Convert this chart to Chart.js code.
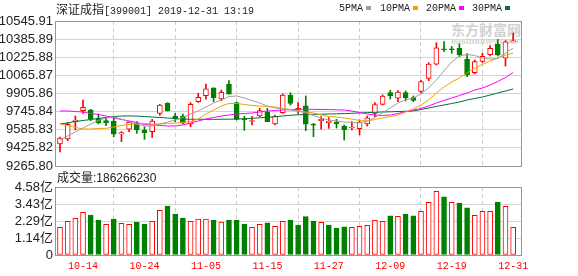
<!DOCTYPE html>
<html>
<head>
<meta charset="utf-8">
<script src="https://cdn.jsdelivr.net/npm/chart.js@4.4.1/dist/chart.umd.min.js"></script>
<style>
  html, body { margin: 0; padding: 0; background: #fff; }
  #wrap { position: relative; width: 578px; height: 276px; overflow: hidden;
          font-family: "Liberation Sans", "Noto Sans CJK SC", sans-serif; color: #222; }
  .abs { position: absolute; white-space: nowrap; }
  .mono { font-family: "Liberation Mono", monospace; font-size: 10px; }
  .cjk { font-family: "Noto Sans CJK SC", sans-serif; font-size: 12px; }
  canvas { position: absolute; left: 0; }
  .sq { display: inline-block; width: 5px; height: 4px; margin-left: 3px; vertical-align: 1px; }
  .wm { color: #d2d2d2; font-weight: bold; }
</style>
</head>
<body>
<div id="wrap">
  <div class="abs wm cjk" style="left:451px;top:21px;font-size:14px;line-height:16px;letter-spacing:0px">东方财富网</div>
  <div class="abs wm" style="left:451px;top:36px;font-size:9px;line-height:10px">eastmoney.com</div>

  <canvas id="kline" width="578" height="180" style="top:0"></canvas>
  <canvas id="volume" width="578" height="106" style="top:170px"></canvas>

  <div class="abs" style="left:56px;top:2px;line-height:14px"><span class="cjk">深证成指</span><span class="mono">[399001] 2019-12-31 13:19</span></div>
  <div class="abs mono" style="left:339px;top:3px;line-height:12px">5PMA<span class="sq" style="background:#a0a0a0"></span></div>
  <div class="abs mono" style="left:380px;top:3px;line-height:12px">10PMA<span class="sq" style="background:#f5a000"></span></div>
  <div class="abs mono" style="left:426px;top:3px;line-height:12px">20PMA<span class="sq" style="background:#ff00ff"></span></div>
  <div class="abs mono" style="left:472px;top:3px;line-height:12px">30PMA<span class="sq" style="background:#00703a"></span></div>
  <div class="abs" style="left:57px;top:171px;font-size:12px;line-height:14px">成交量:186266230</div>
</div>

<script>
// === data ===
const dates = [
  '10-09','10-10','10-11','10-14','10-15','10-16','10-17','10-18','10-21','10-22',
  '10-23','10-24','10-25','10-28','10-29','10-30','10-31','11-01','11-04','11-05',
  '11-06','11-07','11-08','11-11','11-12','11-13','11-14','11-15','11-18','11-19',
  '11-20','11-21','11-22','11-25','11-26','11-27','11-28','11-29','12-02','12-03',
  '12-04','12-05','12-06','12-09','12-10','12-11','12-12','12-13','12-16','12-17',
  '12-18','12-19','12-20','12-23','12-24','12-25','12-26','12-27','12-30','12-31'
];
const dateTicks = ['10-14','10-24','11-05','11-15','11-27','12-09','12-19','12-31'];

const openP  = [9460,9504,9657,9754,9760,9687,9666,9663,9548,9590,9643,9584,9569,9731,9819,9707,9707,9634,9833,9886,
                9955,9857,9990,9825,9680,9659,9707,9742,9637,9737,9893,9760,9796,9630,9666,9648,9654,9619,9601,9595,
                9637,9731,9810,9913,9864,9915,9869,9925,10040,10164,10299,10296,10305,10208,10090,10190,10248,10339,10217,10362];
const highP  = [9521,9648,9707,9848,9766,9725,9692,9701,9569,9657,9657,9613,9678,9810,9825,9731,9725,9825,9908,9990,
                9955,9937,10019,9830,9705,9701,9775,9775,9716,9902,9913,9825,9884,9643,9701,9692,9678,9628,9657,9672,
                9707,9825,9893,9934,9932,9929,9884,10022,10178,10354,10365,10321,10343,10259,10202,10261,10330,10383,10372,10440];
const lowP   = [9389,9489,9584,9731,9666,9637,9622,9524,9480,9569,9554,9501,9519,9713,9751,9657,9637,9613,9828,9855,
                9834,9842,9899,9672,9580,9628,9701,9657,9628,9731,9804,9731,9578,9525,9590,9598,9601,9495,9584,9540,
                9619,9701,9804,9857,9834,9840,9834,9910,10019,10158,10275,10261,10231,10054,10078,10178,10237,10237,10149,10362];
const closeP = [9513,9634,9672,9784,9681,9648,9648,9546,9560,9652,9584,9560,9663,9804,9754,9684,9643,9810,9872,9946,
                9870,9916,9901,9678,9674,9666,9754,9657,9707,9893,9819,9774,9634,9626,9678,9663,9637,9584,9608,9654,
                9690,9807,9884,9886,9919,9866,9844,10010,10166,10310,10292,10292,10246,10069,10187,10234,10305,10246,10363,10367];

const ma5  = [9495.4,9530.7,9566.0,9601.3,9636.6,9667.5,9689.6,9698.4,9680.8,9654.3,9636.6,9619.0,9619.0,9636.6,9654.3,
              9671.9,9694.0,9724.9,9751.4,9786.7,9822.0,9848.5,9879.4,9883.8,9866.2,9844.1,9822.0,9795.5,9777.9,9769.0,
              9760.2,9751.4,9733.7,9711.7,9689.6,9671.9,9663.1,9654.3,9649.9,9645.5,9663.1,9694.0,9733.7,9777.9,9822.0,
              9848.5,9866.2,9901.5,9954.6,10025.1,10104.8,10183.9,10236.9,10250.2,10241.3,10219.3,10210.4,10214.9,10262.7,10307.6];
const ma10 = [9636.6,9623.4,9605.7,9592.5,9592.5,9596.9,9598.7,9610.1,9623.4,9632.2,9636.6,9641.0,9636.6,9636.6,9641.0,
              9645.5,9649.9,9658.7,9680.8,9724.9,9760.2,9795.5,9817.6,9817.6,9808.8,9799.9,9795.5,9791.1,9786.7,9773.5,
              9764.6,9751.4,9742.6,9733.7,9716.1,9702.8,9698.4,9689.6,9680.8,9667.5,9663.1,9676.3,9689.6,9702.8,9716.1,
              9742.6,9769.0,9804.4,9848.5,9910.3,9963.3,10007.4,10042.7,10086.9,10131.0,10161.9,10192.8,10219.3,10245.8,10263.4];
const ma20 = [9751.4,9751.4,9747.0,9742.6,9729.3,9720.5,9707.2,9689.6,9676.3,9663.1,9649.9,9632.2,9627.8,9623.4,9619.0,
              9619.0,9627.8,9645.5,9663.1,9680.8,9694.0,9707.2,9716.1,9724.9,9729.3,9733.7,9742.6,9751.4,9755.8,9760.2,
              9764.6,9766.0,9767.0,9766.0,9765.0,9764.0,9762.0,9760.2,9751.4,9738.2,9724.9,9716.1,9711.7,9716.1,9729.3,
              9747.0,9760.2,9773.5,9795.5,9822.0,9844.1,9866.2,9888.2,9910.3,9936.8,9954.4,9980.9,10011.8,10047.2,10091.2];
const ma30 = [9636.6,9645.5,9658.7,9667.5,9676.3,9685.2,9694.0,9702.8,9707.2,9708.0,9706.5,9702.8,9698.4,9694.0,9689.6,
              9685.2,9680.8,9678.1,9678.5,9678.0,9677.6,9678.3,9679.0,9680.8,9683.4,9687.0,9691.3,9695.8,9700.2,9707.2,
              9713.4,9717.9,9720.5,9722.3,9723.1,9724.9,9726.7,9728.4,9731.1,9733.7,9737.3,9739.9,9742.6,9744.3,9747.0,
              9748.7,9751.4,9764.6,9777.9,9791.1,9804.4,9817.6,9830.8,9848.5,9861.7,9874.9,9892.6,9910.3,9927.9,9945.6];

// volume in 亿, and whether the bar is drawn as an "up" (red) bar
const volume = [1.87,2.27,2.47,2.87,2.69,2.36,2.07,2.42,2.13,2.07,2.22,2.09,2.27,3.01,3.30,2.76,2.49,2.27,2.42,2.42,
                2.36,2.22,2.36,2.36,2.09,1.87,2.07,2.16,1.93,2.27,2.36,2.02,2.58,2.29,2.20,2.02,1.82,1.89,1.87,1.93,
                2.00,2.33,2.27,2.63,2.61,2.76,2.63,2.94,3.55,4.29,3.91,3.55,3.50,3.17,2.67,2.94,2.94,3.57,3.28,1.86];
const volUp  = [1,1,1,1,0,0,1,0,1,1,0,0,1,1,0,0,0,1,1,1,0,1,0,0,0,1,1,0,1,1,
                0,0,0,0,1,0,0,0,1,1,1,1,1,0,1,0,0,1,1,1,0,1,0,0,1,1,1,0,1,1];

const priceTicks = [9265.80, 9425.82, 9585.83, 9745.84, 9905.86, 10065.87, 10225.88, 10385.89, 10545.91];
const volTicks = [0, 1.145, 2.29, 3.435, 4.58];
const volTickLabels = ['0', '1.14亿', '2.29亿', '3.43亿', '4.58亿'];

const RED = '#ff0000', GREEN = '#008000';
const up = i => closeP[i] >= openP[i];

Chart.defaults.font.family = '"Liberation Sans", "Noto Sans CJK SC", sans-serif';
Chart.defaults.color = '#222';

// frame round the plot area
const frame = {
  id: 'frame',
  afterDatasetsDraw(chart) {
    const { ctx, chartArea: a } = chart;
    ctx.save();
    ctx.strokeStyle = '#969696';
    ctx.lineWidth = 1;
    ctx.strokeRect(a.left + 0.5, a.top + 0.5, a.right - a.left - 1, a.bottom - a.top);
    ctx.restore();
  }
};

const xAxis = (height, showLabels) => ({
  type: 'linear',
  min: -0.65,
  max: 60.15,
  offset: false,
  afterFit: s => { s.height = height; },
  afterBuildTicks: s => { s.ticks = dateTicks.map(d => ({ value: dates.indexOf(d) })); },
  grid: { color: '#cccccc', drawTicks: false },
  border: { display: false, dash: [4, 3] },
  ticks: {
    display: showLabels,
    padding: 5,
    color: RED,
    font: { family: '"Liberation Mono", monospace', size: 10 },
    maxRotation: 0,
    autoSkip: false,
    callback: v => dates[v] || ''
  }
});

const line = (data, color) => ({
  type: 'line',
  data: data.map((v, i) => ({ x: i, y: v })),
  borderColor: color,
  borderWidth: 1,
  pointRadius: 0,
  tension: 0,
  order: 0
});

// === 1) candles + moving averages ===
new Chart(document.getElementById('kline'), {
  type: 'bar',
  data: {
    datasets: [
      line(ma5, '#a0a0a0'),
      line(ma10, '#f5a000'),
      line(ma20, '#ff00ff'),
      line(ma30, '#00703a'),
      {
        data: dates.map((d, i) => ({ x: i, y: [openP[i], closeP[i]] })),
        backgroundColor: c => up(c.dataIndex) ? '#ffffff' : GREEN,
        borderColor: c => up(c.dataIndex) ? RED : GREEN,
        borderWidth: 1,
        borderSkipped: false,
        barThickness: 5,
        minBarLength: 1,
        grouped: false,
        order: 1
      },
      {
        data: dates.map((d, i) => ({ x: i, y: [lowP[i], highP[i]] })),
        backgroundColor: c => up(c.dataIndex) ? RED : GREEN,
        borderWidth: 0,
        barThickness: 1,
        grouped: false,
        order: 2
      }
    ]
  },
  options: {
    responsive: false,
    animation: false,
    layout: { padding: { top: 21, right: 56, left: 0, bottom: 0 } },
    plugins: { legend: { display: false }, tooltip: { enabled: false } },
    scales: {
      x: xAxis(14, false),
      y: {
        min: 9265.80,
        max: 10545.91,
        afterFit: s => { s.width = 55; },
        afterBuildTicks: s => { s.ticks = priceTicks.map(v => ({ value: v })); },
        grid: { color: '#d4d4d4', drawTicks: false },
        border: { display: false },
        ticks: { padding: 2, font: { size: 13 }, autoSkip: false, callback: v => v.toFixed(2) }
      }
    }
  },
  plugins: [frame]
});

// === 2) volume ===
new Chart(document.getElementById('volume'), {
  type: 'bar',
  data: {
    datasets: [{
      data: volume.map((v, i) => ({ x: i, y: v })),
      backgroundColor: c => volUp[c.dataIndex] ? '#ffffff' : GREEN,
      borderColor: c => volUp[c.dataIndex] ? RED : GREEN,
      borderWidth: 1,
      borderSkipped: false,
      barThickness: 5,
      grouped: false
    }]
  },
  options: {
    responsive: false,
    animation: false,
    layout: { padding: { top: 17, right: 56, left: 0, bottom: 0 } },
    plugins: { legend: { display: false }, tooltip: { enabled: false } },
    scales: {
      x: xAxis(21, true),
      y: {
        min: 0,
        max: 4.58,
        afterFit: s => { s.width = 55; },
        afterBuildTicks: s => { s.ticks = volTicks.map(v => ({ value: v })); },
        grid: { color: '#d4d4d4', drawTicks: false },
        border: { display: false },
        ticks: { padding: 2, font: { size: 13 }, autoSkip: false, callback: (v, i) => volTickLabels[i] }
      }
    }
  },
  plugins: [frame]
});
</script>
</body>
</html>
